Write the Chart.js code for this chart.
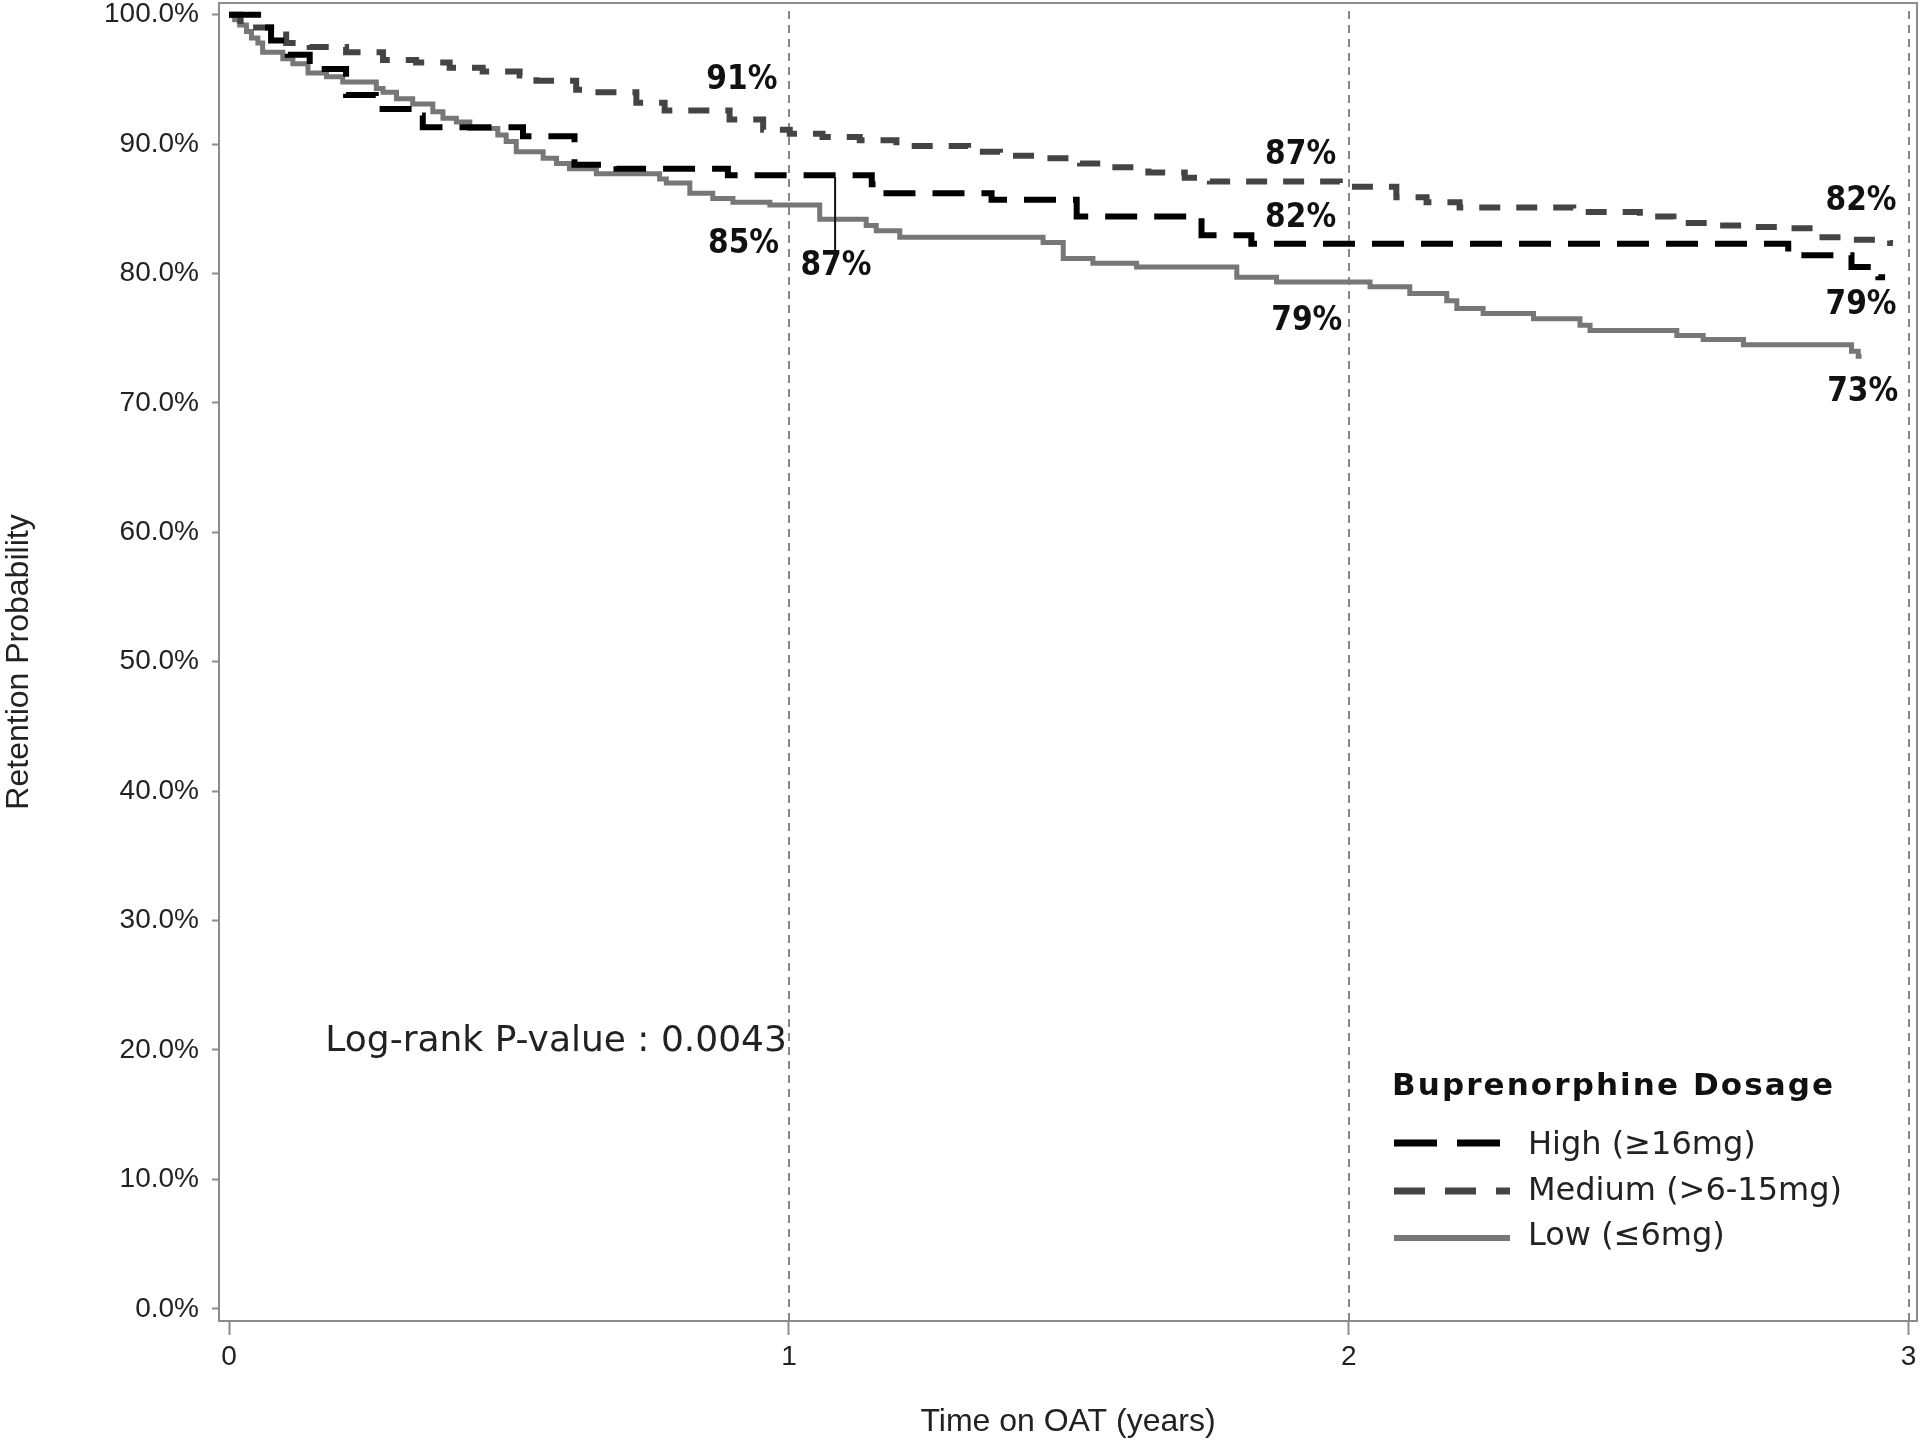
<!DOCTYPE html>
<html>
<head>
<meta charset="utf-8">
<script src="https://cdn.jsdelivr.net/npm/chart.js@4.4.1/dist/chart.umd.min.js"></script>
<style>
  html, body { margin: 0; padding: 0; background: #fff; }
</style>
</head>
<body>
<canvas id="km" width="1920" height="1441"></canvas>
<script>
// Kaplan-Meier retention by buprenorphine dosage
const highT = [0, 0.0575, 0.075, 0.105, 0.144, 0.209, 0.262, 0.33, 0.346, 0.525, 0.617, 0.692, 0.891, 1.148, 1.165, 1.362, 1.514, 1.737, 1.826, 2.785, 2.898, 2.946, 2.958];
const highV = [100, 99.0, 98.0, 96.9, 95.8, 93.8, 92.7, 92.2, 91.3, 90.6, 88.4, 88.1, 87.6, 86.9, 86.2, 85.7, 84.4, 82.96, 82.3, 81.4, 80.5, 79.7, 79.7];

const medT = [0, 0.02, 0.037, 0.102, 0.144, 0.209, 0.275, 0.334, 0.394, 0.453, 0.519, 0.549, 0.62, 0.65, 0.7275, 0.778, 0.894, 0.954, 1.0015, 1.06, 1.1265, 1.192, 1.32, 1.377, 1.454, 1.52, 1.576, 1.642, 1.707, 1.752, 1.984, 2.0, 2.085, 2.139, 2.198, 2.401, 2.52, 2.58, 2.648, 2.711, 2.776, 2.83, 2.892, 2.967, 2.972];
const medV = [100, 99.5, 99.0, 97.8, 97.5, 97.1, 96.5, 96.3, 95.9, 95.6, 95.3, 94.9, 94.2, 94.0, 93.2, 92.6, 91.9, 91.1, 90.8, 90.55, 90.3, 89.85, 89.4, 89.1, 88.9, 88.5, 88.2, 87.8, 87.4, 87.1, 86.9, 86.7, 85.9, 85.5, 85.1, 84.75, 84.4, 83.9, 83.7, 83.6, 83.5, 82.8, 82.6, 82.35, 82.35];

const lowT = [0, 0.01, 0.019, 0.031, 0.04, 0.0515, 0.06, 0.096, 0.114, 0.141, 0.174, 0.203, 0.263, 0.275, 0.299, 0.328, 0.364, 0.382, 0.406, 0.43, 0.48, 0.495, 0.513, 0.561, 0.585, 0.608, 0.656, 0.769, 0.781, 0.823, 0.864, 0.9, 0.966, 1.055, 1.138, 1.156, 1.198, 1.454, 1.49, 1.543, 1.621, 1.8, 1.871, 2.038, 2.109, 2.175, 2.193, 2.24, 2.33, 2.413, 2.431, 2.586, 2.633, 2.705, 2.898, 2.91, 2.916];
const lowV = [100, 99.6, 99.2, 98.7, 98.2, 97.8, 97.1, 96.6, 96.2, 95.5, 95.2, 94.8, 94.3, 94.0, 93.5, 93.1, 92.5, 92.0, 91.7, 91.2, 90.7, 90.2, 89.4, 88.9, 88.5, 88.1, 87.7, 87.3, 87.0, 86.2, 85.8, 85.5, 85.3, 84.2, 83.7, 83.3, 82.8, 82.4, 81.15, 80.8, 80.5, 79.7, 79.35, 78.97, 78.45, 77.9, 77.3, 76.9, 76.5, 76.0, 75.6, 75.2, 74.9, 74.5, 74.0, 73.6, 73.6];

const seriesNames = ["High (\u226516mg)", "Medium (>6-15mg)", "Low (\u22646mg)"];
const yTicks = [0, 10, 20, 30, 40, 50, 60, 70, 80, 90, 100];
const xTicks = [0, 1, 2, 3];
const refYears = [1, 2, 3];

const annoText = ["91%", "85%", "87%", "87%", "82%", "79%", "82%", "79%", "73%"];
const annoT = [0.916, 0.919, 1.084, 1.914, 1.914, 1.925, 2.915, 2.915, 2.918];
const annoV = [95.16, 82.5, 80.8, 89.36, 84.5, 76.55, 85.8, 77.78, 71.06];

const legendTitle = "Buprenorphine Dosage";
const pValueText = "Log-rank P-value : 0.0043";

const frameGray = "#8c8c8c";
const textCol = "#222";

function pts(t, v) {
  return t.map((x, i) => ({ x: x, y: v[i] }));
}

function noPad(s) {
  s.paddingTop = 0;
  s.paddingBottom = 0;
  s.paddingLeft = 0;
  s.paddingRight = 0;
}

const decor = {
  id: "decor",
  beforeDatasetsDraw(chart) {
    let ctx = chart.ctx;
    let a = chart.chartArea;
    let xs = chart.scales.x;
    ctx.save();
    ctx.strokeStyle = "#888";
    ctx.lineWidth = 2;
    ctx.setLineDash([8, 6]);
    for (let r of refYears) {
      let px = Math.round(xs.getPixelForValue(r));
      ctx.beginPath();
      ctx.moveTo(px, a.top + 8);
      ctx.lineTo(px, a.bottom);
      ctx.stroke();
    }
    ctx.restore();
  },
  afterDatasetsDraw(chart) {
    let ctx = chart.ctx;
    let a = chart.chartArea;
    let xs = chart.scales.x;
    let ys = chart.scales.y;
    ctx.save();
    // frame
    ctx.strokeStyle = frameGray;
    ctx.lineWidth = 2;
    ctx.setLineDash([]);
    ctx.strokeRect(a.left, a.top, a.right - a.left, a.bottom - a.top);

    // small bar near 1 year
    ctx.strokeStyle = "#111";
    ctx.lineWidth = 2;
    ctx.beginPath();
    ctx.moveTo(xs.getPixelForValue(1.0825), ys.getPixelForValue(87.45));
    ctx.lineTo(xs.getPixelForValue(1.0825), ys.getPixelForValue(81.8));
    ctx.stroke();

    // percentage labels
    ctx.fillStyle = "#111";
    ctx.font = "bold 33px 'DejaVu Sans Condensed', 'DejaVu Sans'";
    ctx.textAlign = "center";
    ctx.textBaseline = "alphabetic";
    for (let i = 0; i < annoText.length; i++) {
      ctx.fillText(annoText[i], xs.getPixelForValue(annoT[i]), ys.getPixelForValue(annoV[i]) + 12);
    }

    // p-value
    ctx.fillStyle = textCol;
    ctx.font = "36px 'DejaVu Sans'";
    ctx.textAlign = "left";
    ctx.fillText(pValueText, xs.getPixelForValue(0.172), ys.getPixelForValue(19.95));

    // legend
    let lx = 1394;
    ctx.font = "bold 31px 'DejaVu Sans'";
    ctx.letterSpacing = "2.1px";
    ctx.fillStyle = "#111";
    ctx.fillText(legendTitle, 1392, 1095);
    ctx.letterSpacing = "0px";
    let ds = chart.data.datasets;
    let rows = [1143, 1191, 1238];
    let texts = [1154, 1200, 1245];
    let dashes = [[43, 20], [31, 20], []];
    let ends = [1500, 1510, 1510];
    ctx.font = "32px 'DejaVu Sans'";
    for (let i = 0; i < ds.length; i++) {
      ctx.strokeStyle = ds[i].borderColor;
      ctx.lineWidth = ds[i].borderWidth + 1;
      ctx.setLineDash(dashes[i]);
      ctx.beginPath();
      ctx.moveTo(lx, rows[i]);
      ctx.lineTo(ends[i], rows[i]);
      ctx.stroke();
      ctx.fillStyle = textCol;
      ctx.fillText(seriesNames[i], 1528, texts[i]);
    }
    ctx.restore();
  },
};

// KM steps: hold the previous value until the next time, then drop
new Chart(document.getElementById("km"), {
  type: "line",
  data: {
    datasets: [
      {
        label: seriesNames[0],
        data: pts(highT, highV),
        borderColor: "#000",
        borderWidth: 6,
        borderDash: [32, 17],
        stepped: "before",
        pointRadius: 0,
        fill: false,
      },
      {
        label: seriesNames[1],
        data: pts(medT, medV),
        borderColor: "#444",
        borderWidth: 6,
        borderDash: [21, 16],
        stepped: "before",
        pointRadius: 0,
        fill: false,
      },
      {
        label: seriesNames[2],
        data: pts(lowT, lowV),
        borderColor: "#777",
        borderWidth: 5,
        stepped: "before",
        pointRadius: 0,
        fill: false,
      },
    ],
  },
  options: {
    responsive: false,
    animation: false,
    devicePixelRatio: 1,
    layout: { padding: { top: 3, right: 3, left: 0, bottom: 0 } },
    plugins: { legend: { display: false }, tooltip: { enabled: false } },
    scales: {
      x: {
        type: "linear",
        min: -0.018,
        max: 3.015,
        afterBuildTicks: (s) => { s.ticks = xTicks.map((v) => ({ value: v })); },
        afterFit: (s) => { s.height = 120; noPad(s); },
        border: { display: false },
        grid: { drawOnChartArea: false, drawTicks: true, tickLength: 14, tickColor: frameGray, tickWidth: 2 },
        ticks: {
          padding: 5,
          color: textCol,
          font: { family: "'Liberation Sans', Arial", size: 28 },
          callback: (v) => String(v),
        },
        title: {
          display: true,
          text: "Time on OAT (years)",
          color: textCol,
          font: { family: "'Liberation Sans', Arial", size: 32 },
          padding: 0,
        },
      },
      y: {
        type: "linear",
        min: -0.94,
        max: 100.9,
        afterBuildTicks: (s) => { s.ticks = yTicks.map((v) => ({ value: v })); },
        afterFit: (s) => { s.width = 219; noPad(s); },
        border: { display: false },
        grid: { drawOnChartArea: false, drawTicks: true, tickLength: 7, tickColor: frameGray, tickWidth: 2 },
        ticks: {
          padding: 13,
          color: textCol,
          font: { family: "'Liberation Sans', Arial", size: 28 },
          callback: (v) => v.toFixed(1) + "%",
        },
        title: {
          display: true,
          text: "Retention Probability",
          color: textCol,
          font: { family: "'Liberation Sans', Arial", size: 32 },
          padding: 0,
        },
      },
    },
  },
  plugins: [decor],
});
</script>
</body>
</html>
